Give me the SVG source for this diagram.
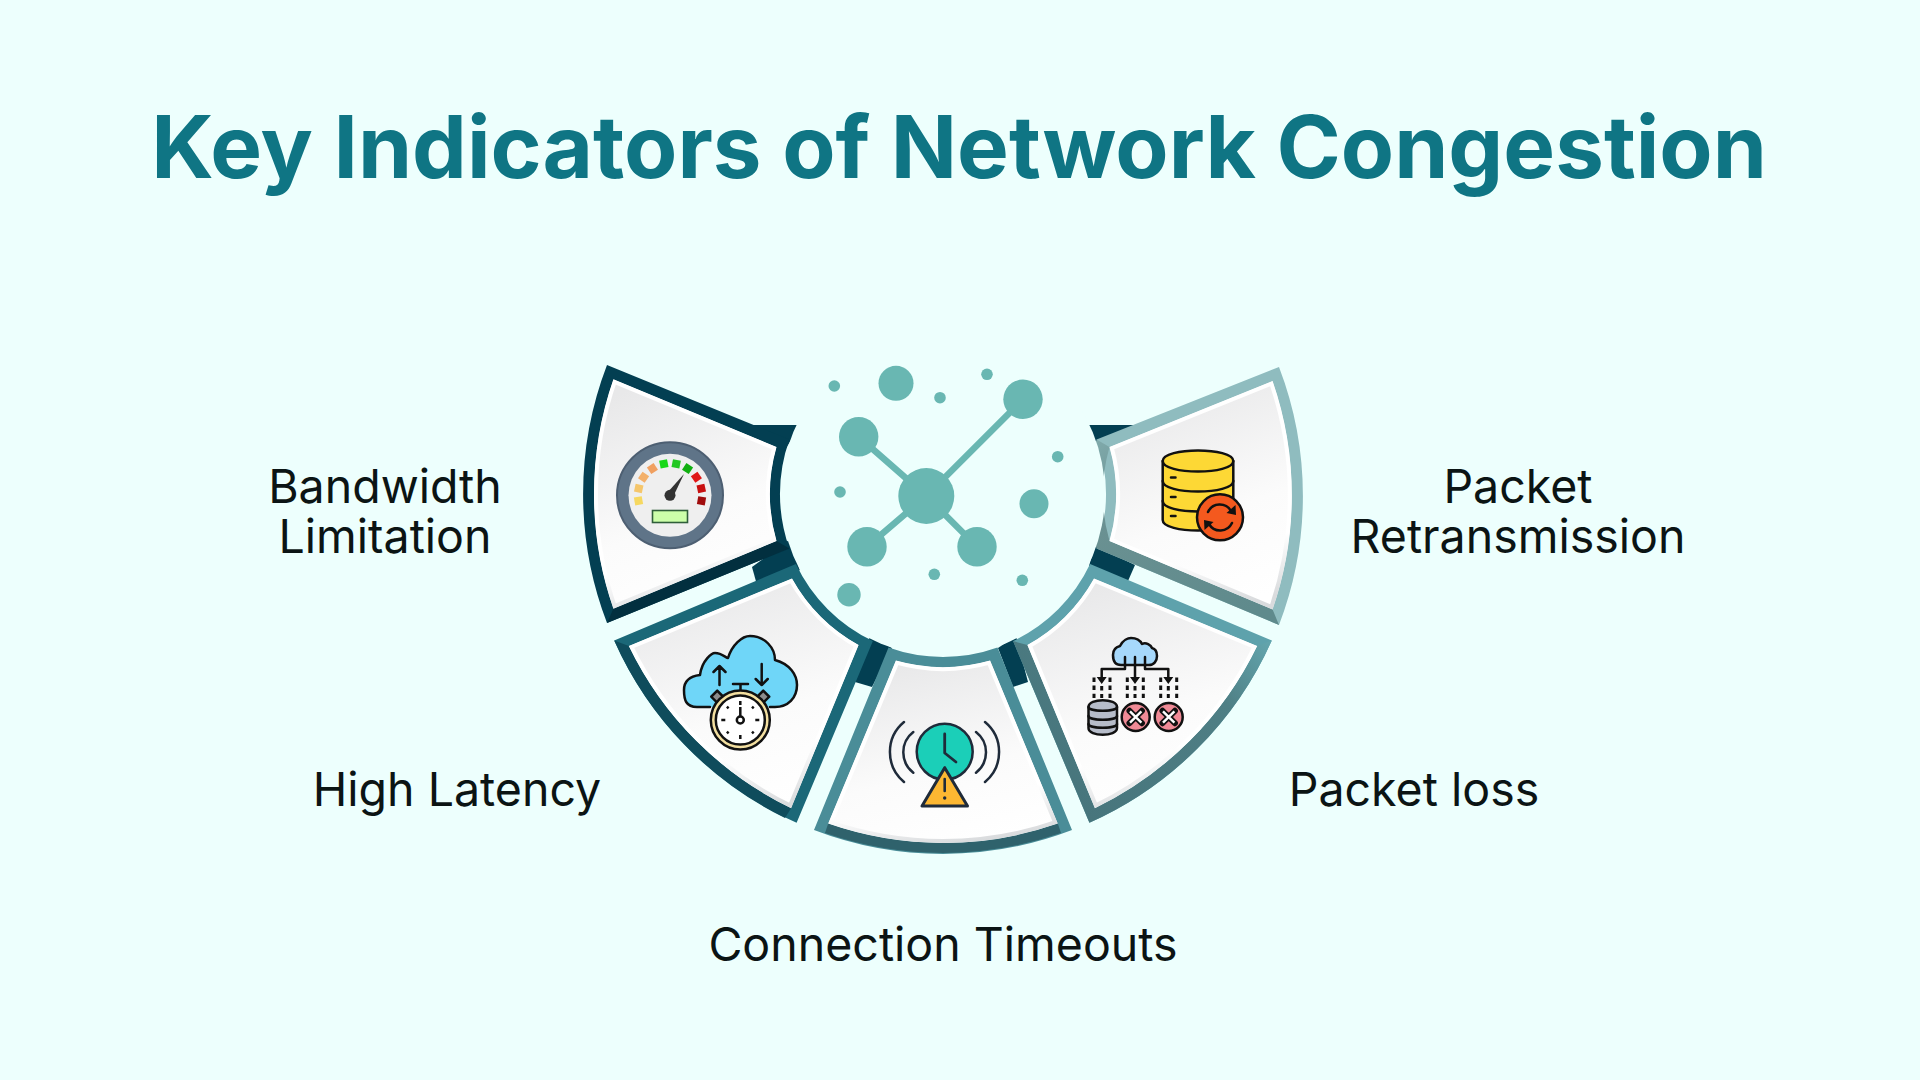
<svg xmlns="http://www.w3.org/2000/svg" width="1920" height="1080" viewBox="0 0 1920 1080">
<style>
.title{font:700 87px Inter,"Liberation Sans",sans-serif;fill:#0f7584;text-anchor:middle}
.lbl{font:400 46.500px Inter,"Liberation Sans",sans-serif;fill:#0b1414;text-anchor:middle}
.card{fill:url(#cardFill);stroke:url(#rim);stroke-width:8}
.net{fill:#69b7b2}
.netl{stroke:#69b7b2;stroke-width:6.5;fill:none}
.ink{stroke:#111;stroke-width:2.5;stroke-linecap:round;stroke-linejoin:round}
.nofill{fill:none}
.tab{fill:#033f52}
</style>
<defs>
<linearGradient id="cardFill" x1="0.35" y1="0" x2="0.65" y2="1"><stop offset="0" stop-color="#e8e8e9"/><stop offset="0.6" stop-color="#fbfbfb"/><stop offset="1" stop-color="#fff"/></linearGradient>
<linearGradient id="rim" x1="0.4" y1="0" x2="0.6" y2="1"><stop offset="0" stop-color="#fff"/><stop offset="0.75" stop-color="#fff"/><stop offset="1" stop-color="#d9dbdd"/></linearGradient>
<linearGradient id="g4" gradientUnits="userSpaceOnUse" x1="1090" y1="820" x2="1270" y2="640"><stop offset="0" stop-color="#47757c"/><stop offset="0.7" stop-color="#4f7f85"/><stop offset="1" stop-color="#63a6ae"/></linearGradient>
<linearGradient id="g5" gradientUnits="userSpaceOnUse" x1="1100" y1="440" x2="1240" y2="620"><stop offset="0" stop-color="#7fa9aa"/><stop offset="0.3" stop-color="#6a9192"/><stop offset="1" stop-color="#5f8a8c"/></linearGradient>
<path id="card1" d="M613.4 379.2A349 349 0 0 0 613.4 608.8L776.5 541.1A173 173 0 0 1 776.5 446.9Z"/>
<path id="card2" d="M628.8 645.9A349 349 0 0 0 791.1 808.2L858.6 645A173 173 0 0 1 792 578.4Z"/>
<path id="card3" d="M828.2 823.6A349 349 0 0 0 1057.8 823.6L990.1 660.5A173 173 0 0 1 895.9 660.5Z"/>
<path id="card4" d="M1094.9 808.2A349 349 0 0 0 1257.2 645.9L1094 578.4A173 173 0 0 1 1027.4 645Z"/>
<path id="card5" d="M1272.6 609.5A349 349 0 0 0 1272.6 381L1109.5 446.9A173 173 0 0 1 1109.5 541.1Z"/>
<clipPath id="c1"><use href="#card1"/></clipPath>
<clipPath id="c2"><use href="#card2"/></clipPath>
<clipPath id="c3"><use href="#card3"/></clipPath>
<clipPath id="c4"><use href="#card4"/></clipPath>
<clipPath id="c5"><use href="#card5"/></clipPath>
</defs>
<rect width="1920" height="1080" fill="#edfffd"/>
<text class="title" x="959" y="178">Key Indicators of Network Congestion</text>

<g id="connectors">
<path class="tab" d="M750 425H800L785 450Z"/>
<path class="tab" d="M752 567L757 585L800 570L789 540Z"/>
<path class="tab" d="M855 682L872 687L892 648L870 636Z"/>
<path class="tab" d="M998 648L1013 687L1028 682L1016 636Z"/>
<path class="tab" d="M1089 566L1128 581L1135 565L1095 545Z"/>
<path class="tab" d="M1088 425H1135L1095 445Z"/>
</g>

<g id="node-bandwidth">
<path fill="#033f52" d="M607 365A360 360 0 0 0 607 623L789.4 548.5A162 162 0 0 1 789.4 439.5Z"/>
<path fill="#022f3f" d="M607 623L613.4 608.8L776.5 541.1L789.4 548.5Z"/>
<use href="#card1" class="card" clip-path="url(#c1)"/>
<circle cx="670" cy="495.3" r="53" fill="#5f7488" stroke="#4d5f72" stroke-width="2"/>
<circle cx="670" cy="495.3" r="41.5" fill="#efefef"/>
<g transform="translate(670 495.3)">
<rect x="-4" y="-36" width="8" height="8" fill="#f6d860" transform="rotate(-100)"/>
<rect x="-4" y="-36" width="8" height="8" fill="#f5c66b" transform="rotate(-77.8)"/>
<rect x="-4" y="-36" width="8" height="8" fill="#f3b06a" transform="rotate(-55.6)"/>
<rect x="-4" y="-36" width="8" height="8" fill="#f0a060" transform="rotate(-33.3)"/>
<rect x="-4" y="-36" width="8" height="8" fill="#18d818" transform="rotate(-11.1)"/>
<rect x="-4" y="-36" width="8" height="8" fill="#22c822" transform="rotate(11.1)"/>
<rect x="-4" y="-36" width="8" height="8" fill="#10b010" transform="rotate(33.3)"/>
<rect x="-4" y="-36" width="8" height="8" fill="#e01818" transform="rotate(55.6)"/>
<rect x="-4" y="-36" width="8" height="8" fill="#c81010" transform="rotate(77.8)"/>
<rect x="-4" y="-36" width="8" height="8" fill="#a00c0c" transform="rotate(100)"/>
</g>
<path fill="#333" d="M667 493L684 474L673 497Z"/>
<circle cx="670" cy="495.3" r="5.5" fill="#333"/>
<rect x="652.5" y="510.5" width="35" height="12" fill="#ccffaa" stroke="#2f5f3a" stroke-width="1.6"/>
</g>

<g id="node-latency">
<path fill="#1b6878" d="M614.2 640.4A360 360 0 0 0 796.6 822.8L872.9 641.1A162 162 0 0 1 795.9 564.1Z"/>
<path fill="#0f4c5c" d="M614.2 640.4A360 360 0 0 0 785 818L791.1 808.2A349 349 0 0 1 628.8 645.9Z"/>
<use href="#card2" class="card" clip-path="url(#c2)"/>
<path class="ink" fill="#6fd6f8" d="M710 707H697C686 707 684 700 684 690C684 680 692 676 700 675C702 660 712 653 715 653C722 653 726 658 728 658C732 645 742 636 750 636C765 636 775 648 775 660C790 664 797 675 797 685C797 698 788 707 775 707H770"/>
<path class="ink nofill" stroke-width="3" d="M719.5 685V666M713.5 672L719.5 666L725.5 672M761.7 664V685M755.7 679L761.7 685L767.7 679"/>
<path class="ink nofill" d="M733 684H748M740.5 684V691"/>
<rect x="713" y="692.5" width="8.5" height="8.5" fill="#8c8c8c" class="ink" transform="rotate(45 717.3 696.7)"/>
<rect x="759" y="692.5" width="8.5" height="8.5" fill="#8c8c8c" class="ink" transform="rotate(45 763.3 696.7)"/>
<circle cx="740.3" cy="720" r="29.5" fill="#f3dfa0" class="ink"/>
<circle cx="740.3" cy="720" r="24.5" fill="#fff" class="ink"/>
<path d="M740.3 701V705M759.3 720H755.3M740.3 739V735M721.3 720H725.3M753.7 706.6L752 708.3M753.7 733.4L752 731.7M726.9 733.4L728.6 731.7M726.9 706.6L728.6 708.3" stroke="#111" stroke-width="2.5" fill="none"/>
<path d="M740.3 707V716" stroke="#111" stroke-width="2.5"/>
<circle cx="740.3" cy="720" r="3.5" fill="#fff" stroke="#111" stroke-width="2.5"/>
</g>

<g id="node-timeouts">
<path fill="#4a8d98" d="M814 830A360 360 0 0 0 1072 830L997.5 647.6A162 162 0 0 1 888.5 647.6Z"/>
<path fill="#2f626c" d="M825 833A360 360 0 0 0 1061 833L1057.8 823.6A349 349 0 0 1 828.2 823.6Z"/>
<use href="#card3" class="card" clip-path="url(#c3)"/>
<circle cx="944.7" cy="751.7" r="28" fill="#1bcfb8" stroke="#1f2b3a" stroke-width="2.5"/>
<path d="M944.7 734V753L956 762" fill="none" stroke="#1f2b3a" stroke-width="2.8" stroke-linecap="round" stroke-linejoin="round"/>
<path d="M904 722A39 39 0 0 0 904 782M913.3 732A25.7 25.7 0 0 0 913.3 772.7M985 722A39 39 0 0 1 985 782M976 732A25.7 25.7 0 0 1 976 772.7" fill="none" stroke="#1f2b3a" stroke-width="2.5" stroke-linecap="round"/>
<path d="M944.7 767.7L922 806H967.5Z" fill="#fcb732" stroke="#1f2b3a" stroke-width="3" stroke-linejoin="round"/>
<path d="M944.7 779V791" stroke="#1f2b3a" stroke-width="2.6" stroke-linecap="round"/>
<circle cx="944.7" cy="798" r="1.7" fill="#1f2b3a"/>
</g>

<g id="node-loss">
<path fill="#5ea2ac" d="M1089.4 822.8A360 360 0 0 0 1271.8 640.4L1090.1 564.1A162 162 0 0 1 1013.1 641.1Z"/>
<path fill="url(#g4)" d="M1089.4 822.8A360 360 0 0 0 1271.8 640.4L1257.2 645.9A349 349 0 0 1 1094.9 808.2L1027.4 645L1013.1 641.1Z"/>
<use href="#card4" class="card" clip-path="url(#c4)"/>
<path class="ink" fill="#a6d8fb" d="M1121 665C1114 665 1113 660 1113 655C1113 650 1116 647 1120 646C1123 640 1128 638 1131 638C1136 638 1140 640 1142 644C1146 642 1151 645 1152 648C1156 649 1157 653 1157 656C1157 661 1154 665 1149 665Z"/>
<path class="ink nofill" stroke-width="2.5" d="M1135 657V678M1125 657V669H1101.7V678M1145 657V669H1168.3V678"/>
<path fill="#111" d="M1096.7 677H1106.7L1101.7 684ZM1130 677H1140L1135 684ZM1163.3 677H1173.3L1168.3 684Z"/>
<path d="M1094 677.5V698M1101.7 686V698M1110 677.5V698M1127.3 677.5V698M1135 686V698M1143.3 677.5V698M1160.7 677.5V698M1168.3 686V698M1176.7 677.5V698" stroke="#111" stroke-width="3" stroke-dasharray="4.5 3.6" fill="none"/>
<path class="ink" fill="#b6bcc9" d="M1088.5 707C1088.5 698 1117 698 1117 707V728C1117 737 1088.5 737 1088.5 728Z"/>
<path class="ink nofill" d="M1088.5 707C1088.5 712 1117 712 1117 707M1088.5 716C1088.5 721 1117 721 1117 716M1088.5 724C1088.5 729 1117 729 1117 724"/>
<circle cx="1135.7" cy="717" r="14" fill="#f08a96" class="ink"/>
<circle cx="1168.7" cy="717" r="14" fill="#f08a96" class="ink"/>
<path d="M1129.5 710.8L1141.9 723.2M1141.9 710.8L1129.5 723.2M1162.5 710.8L1174.9 723.2M1174.9 710.8L1162.5 723.2" stroke="#111" stroke-width="6" stroke-linecap="round"/>
<path d="M1130 711.3L1141.4 722.7M1141.4 711.3L1130 722.7M1163 711.3L1174.4 722.7M1174.4 711.3L1163 722.7" stroke="#fff" stroke-width="2.4"/>
</g>

<g id="node-retransmission">
<path fill="#8fbcbf" d="M1279 625A360 360 0 0 0 1279 367L1096.6 439.5A162 162 0 0 1 1096.6 548.5Z"/>
<path fill="url(#g5)" d="M1279 625L1272.6 609.5L1109.5 541.1A173 173 0 0 1 1109.5 446.9L1096.6 439.5A162 162 0 0 0 1096.6 548.5Z"/>
<use href="#card5" class="card" clip-path="url(#c5)"/>
<path class="ink" fill="#fdd835" d="M1162.7 461C1162.7 447 1233.3 447 1233.3 461V520C1233.3 534 1162.7 534 1162.7 520Z"/>
<path class="ink nofill" d="M1162.7 461C1162.7 475 1233.3 475 1233.3 461M1162.7 481C1162.7 495 1233.3 495 1233.3 481M1162.7 501C1162.7 515 1233.3 515 1233.3 501"/>
<path d="M1171 477.5H1175.5M1171 497H1175.5M1171 516H1175.5" stroke="#111" stroke-width="2.5" stroke-linecap="round"/>
<circle cx="1220" cy="517.3" r="23" fill="#f4591e" class="ink"/>
<path class="ink nofill" d="M1208 512A13 13 0 0 1 1231 511M1232 523A13 13 0 0 1 1209 524"/>
<path fill="#111" d="M1235.5 505L1236 515L1226.5 513ZM1204.5 530L1204 520L1213.5 522Z"/>
</g>

<g id="node-hub">
<circle cx="943" cy="494" r="162" fill="#edfffd"/>
<path class="netl" d="M858.7 436.7L926.3 496M1023 399.3L926.3 496M867 546.7L926.3 496M977 546.7L926.3 496"/>
<circle class="net" cx="834.3" cy="386" r="5.8"/>
<circle class="net" cx="896" cy="383.3" r="17.5"/>
<circle class="net" cx="940" cy="397.7" r="5.8"/>
<circle class="net" cx="987" cy="374.3" r="5.8"/>
<circle class="net" cx="1023" cy="399.3" r="19.7"/>
<circle class="net" cx="858.7" cy="436.7" r="19.7"/>
<circle class="net" cx="1057.7" cy="456.7" r="5.8"/>
<circle class="net" cx="840" cy="492" r="5.8"/>
<circle class="net" cx="926.3" cy="496" r="28"/>
<circle class="net" cx="1034" cy="503.7" r="14.5"/>
<circle class="net" cx="867" cy="546.7" r="19.7"/>
<circle class="net" cx="977" cy="546.7" r="19.7"/>
<circle class="net" cx="934.3" cy="574.3" r="5.8"/>
<circle class="net" cx="1022.3" cy="580.3" r="5.8"/>
<circle class="net" cx="849" cy="594.7" r="11.7"/>
</g>

<text class="lbl" x="385" y="503">Bandwidth</text>
<text class="lbl" x="385" y="553">Limitation</text>
<text class="lbl" x="457" y="806">High Latency</text>
<text class="lbl" x="943" y="961">Connection Timeouts</text>
<text class="lbl" x="1414" y="806">Packet loss</text>
<text class="lbl" x="1518" y="503">Packet</text>
<text class="lbl" x="1518" y="553">Retransmission</text>
</svg>
